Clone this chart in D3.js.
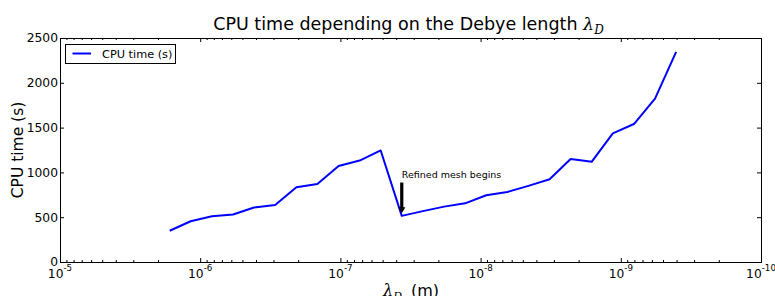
<!DOCTYPE html>
<html>
<head>
<meta charset="utf-8">
<script src="https://cdn.jsdelivr.net/npm/d3@7"></script>
<style>
  body { margin: 0; background: #fff; }
  svg { display: block; font-family: "DejaVu Sans", sans-serif; }
  .axis path { display: none; }
  .axis line { stroke: #000; stroke-width: 1; }
</style>
</head>
<body>
<div id="chart"></div>
<script>
// Debye length (m) and CPU time (s)
var lambdaD = [1.65e-6, 1.17e-6, 8.25e-7, 5.83e-7, 4.13e-7, 2.92e-7, 2.06e-7,
  1.46e-7, 1.03e-7, 7.29e-8, 5.16e-8, 3.65e-8, 2.58e-8, 1.82e-8, 1.29e-8,
  9.11e-9, 6.45e-9, 4.56e-9, 3.22e-9, 2.28e-9, 1.61e-9, 1.14e-9, 8.06e-10,
  5.70e-10, 4.03e-10];
var cpuTime = [349, 455, 510, 530, 608, 636, 835, 870, 1072, 1132, 1245, 515,
  568, 618, 655, 745, 781, 850, 923, 1150, 1120, 1436, 1540, 1823, 2345];

var xMajor = [1e-5, 1e-6, 1e-7, 1e-8, 1e-9, 1e-10];
var xExp = ["-5", "-6", "-7", "-8", "-9", "-10"];
var yTicks = [0, 500, 1000, 1500, 2000, 2500];

// annotation: index of the point and the text height (in s)
var noteIndex = 11;
var noteText = "Refined mesh begins";
var noteY = 920;

(function() {
  var width = 775, height = 296;
  var mLeft = 60, mRight = 761, mTop = 38, mBottom = 262;

  var svg = d3.select("#chart").append("svg")
    .attr("width", width)
    .attr("height", height);

  var x = d3.scaleLog().domain([1e-5, 1e-10]).range([mLeft, mRight]);
  var y = d3.scaleLinear().domain([0, 2500]).range([mBottom, mTop]);

  // minor ticks 2..9 in every decade
  var xMinor = [];
  xMajor.slice(0, -1).forEach(function(d) {
    for (var k = 2; k <= 9; k++) xMinor.push(d / 10 * k);
  });

  // ticks, pointing inward on all four sides
  svg.append("g").attr("class", "axis")
    .attr("transform", "translate(0," + mBottom + ")")
    .call(d3.axisBottom(x).tickValues(xMajor).tickSize(-4).tickFormat(""));
  svg.append("g").attr("class", "axis")
    .attr("transform", "translate(0," + mBottom + ")")
    .call(d3.axisBottom(x).tickValues(xMinor).tickSize(-2).tickFormat(""));
  svg.append("g").attr("class", "axis")
    .attr("transform", "translate(0," + mTop + ")")
    .call(d3.axisTop(x).tickValues(xMajor).tickSize(-4).tickFormat(""));
  svg.append("g").attr("class", "axis")
    .attr("transform", "translate(0," + mTop + ")")
    .call(d3.axisTop(x).tickValues(xMinor).tickSize(-2).tickFormat(""));
  svg.append("g").attr("class", "axis")
    .attr("transform", "translate(" + mLeft + ",0)")
    .call(d3.axisLeft(y).tickValues(yTicks).tickSize(-4).tickFormat(""));
  svg.append("g").attr("class", "axis")
    .attr("transform", "translate(" + mRight + ",0)")
    .call(d3.axisRight(y).tickValues(yTicks).tickSize(-4).tickFormat(""));

  // frame
  svg.append("rect")
    .attr("x", mLeft + 0.5).attr("y", mTop + 0.5)
    .attr("width", mRight - mLeft).attr("height", mBottom - mTop)
    .attr("fill", "none").attr("stroke", "#000").attr("stroke-width", 1);

  // x tick labels 10^n
  var xl = svg.append("g").selectAll("text")
    .data(xMajor)
    .enter().append("text")
    .attr("x", function(d) { return x(d); })
    .attr("y", 278)
    .attr("text-anchor", "middle")
    .attr("font-size", 12.3)
    .attr("fill", "#000");
  xl.append("tspan").text("10");
  xl.append("tspan")
    .attr("dy", -7)
    .attr("font-size", 8.7)
    .text(function(d, i) { return xExp[i]; });

  // y tick labels
  svg.append("g").selectAll("text")
    .data(yTicks)
    .enter().append("text")
    .attr("x", mLeft - 2)
    .attr("y", function(d) { return y(d); })
    .attr("dy", "0.36em")
    .attr("text-anchor", "end")
    .attr("font-size", 12.3)
    .attr("fill", "#000")
    .text(function(d) { return d; });

  // line
  var line = d3.line()
    .x(function(d) { return x(d[0]); })
    .y(function(d) { return y(d[1]); });

  svg.append("path")
    .datum(d3.zip(lambdaD, cpuTime))
    .attr("d", line)
    .attr("fill", "none")
    .attr("stroke", "#0000ff")
    .attr("stroke-width", 2)
    .attr("stroke-linejoin", "round");

  // annotation with arrow
  var ax = x(lambdaD[noteIndex]);
  var tipY = y(cpuTime[noteIndex]) - 2.5;
  var startY = y(noteY) + 3;
  var headY = tipY - 6;
  svg.append("path")
    .attr("d", "M" + (ax - 1.6) + "," + startY +
      "L" + (ax + 1.6) + "," + startY +
      "L" + (ax + 1.6) + "," + headY +
      "L" + (ax + 3.6) + "," + headY +
      "L" + ax + "," + tipY +
      "L" + (ax - 3.6) + "," + headY +
      "L" + (ax - 1.6) + "," + headY + "Z")
    .attr("fill", "#000");
  svg.append("text")
    .attr("x", ax)
    .attr("y", y(noteY) - 1.5)
    .attr("font-size", 9.5)
    .attr("fill", "#000")
    .text(noteText);

  // legend
  var lg = svg.append("g");
  lg.append("rect")
    .attr("x", 65.5).attr("y", 44.5)
    .attr("width", 110).attr("height", 19)
    .attr("fill", "#fff").attr("stroke", "#000").attr("stroke-width", 1);
  lg.append("line")
    .attr("x1", 72.5).attr("x2", 91)
    .attr("y1", 53.5).attr("y2", 53.5)
    .attr("stroke", "#0000ff").attr("stroke-width", 2);
  lg.append("text")
    .attr("x", 102).attr("y", 57.5)
    .attr("font-size", 11.3)
    .attr("fill", "#000")
    .text("CPU time (s)");

  // title
  var title = svg.append("text")
    .attr("x", (mLeft + mRight) / 2 - 2)
    .attr("y", 30)
    .attr("text-anchor", "middle")
    .attr("font-size", 17.5)
    .attr("fill", "#000");
  title.append("tspan").text("CPU time depending on the Debye length ");
  title.append("tspan")
    .attr("font-family", "DejaVu Serif, serif").attr("font-style", "italic")
    .text("λ");
  title.append("tspan")
    .attr("font-family", "DejaVu Serif, serif").attr("font-style", "italic")
    .attr("font-size", 12).attr("dy", 4)
    .text("D");

  // axis labels
  var xt = svg.append("text")
    .attr("x", 383)
    .attr("y", 296)
    .attr("font-size", 16)
    .attr("fill", "#000");
  xt.append("tspan")
    .attr("font-family", "DejaVu Serif, serif").attr("font-style", "italic")
    .text("λ");
  xt.append("tspan")
    .attr("font-family", "DejaVu Serif, serif").attr("font-style", "italic")
    .attr("font-size", 11).attr("dy", 4)
    .text("D");
  xt.append("tspan").attr("dy", -4).attr("dx", 9).text("(m)");

  svg.append("text")
    .attr("transform", "translate(23," + ((mTop + mBottom) / 2) + ") rotate(-90)")
    .attr("text-anchor", "middle")
    .attr("font-size", 15.5)
    .attr("fill", "#000")
    .text("CPU time (s)");
})();
</script>
</body>
</html>
